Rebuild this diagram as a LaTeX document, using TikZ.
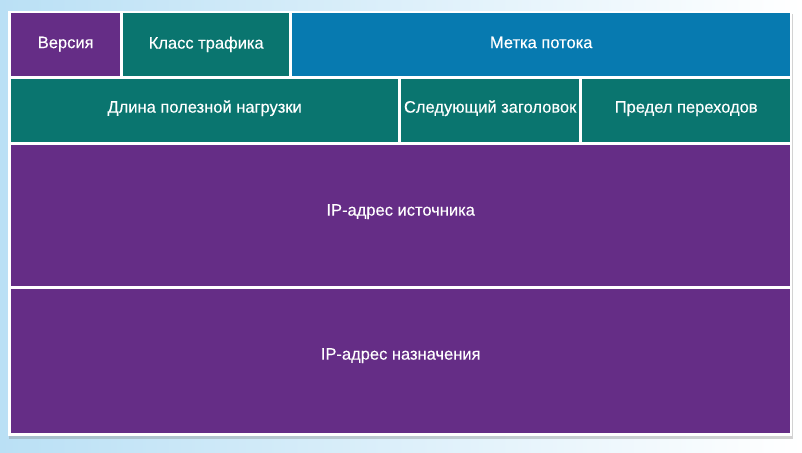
\documentclass[tikz,border=0pt]{standalone}
\usepackage{fontspec}
\setmainfont{Liberation Sans}
\newfontfamily\cellfont[FakeBold=0.35]{Liberation Sans}
\usetikzlibrary{shadows}
\definecolor{hdrpurple}{RGB}{101,45,134}
\definecolor{hdrteal}{RGB}{10,117,111}
\definecolor{hdrblue}{RGB}{7,122,176}
\definecolor{skyblue}{RGB}{186,224,245}
\tikzset{
  cell/.style={anchor=north west, inner sep=0pt, text=white, text height=11.8pt,
    font=\cellfont\fontsize{16.5}{20}\selectfont},
  board/.style={anchor=north west, inner sep=0pt, fill=white,
    drop shadow={shadow xshift=1pt, shadow yshift=-3pt, opacity=0.35}}
}
\begin{document}
\begin{tikzpicture}[x=1pt,y=-1pt]
\useasboundingbox (0,0) rectangle (802,452);
\shade[left color=skyblue, right color=white] (0,0) rectangle (802,452);
\node[board, minimum width=784, minimum height=425] (frame) at (8,11) {};
\node[cell, fill=hdrpurple, minimum width=109, minimum height=63, text depth=5pt] (version) at (11,13) {Версия};
\node[cell, fill=hdrteal, minimum width=166, minimum height=63, text depth=4pt] (tclass) at (123,13) {Класс трафика};
\node[cell, fill=hdrblue, minimum width=498, minimum height=63, text depth=5pt] (flow) at (292,13) {Метка потока};
\node[cell, fill=hdrteal, minimum width=387, minimum height=63, text depth=8pt] (plen) at (11,79) {Длина полезной нагрузки};
\node[cell, fill=hdrteal, minimum width=178, minimum height=63, text depth=8pt] (nexthdr) at (401,79) {Следующий заголовок};
\node[cell, fill=hdrteal, minimum width=208, minimum height=63, text depth=8pt] (hoplim) at (582,79) {Предел переходов};
\node[cell, fill=hdrpurple, minimum width=779, minimum height=141, text depth=12pt] (srcaddr) at (11,145) {IP-адрес источника};
\node[cell, fill=hdrpurple, minimum width=779, minimum height=144, text depth=15pt] (dstaddr) at (11,289) {IP-адрес назначения};
\end{tikzpicture}
\end{document}
